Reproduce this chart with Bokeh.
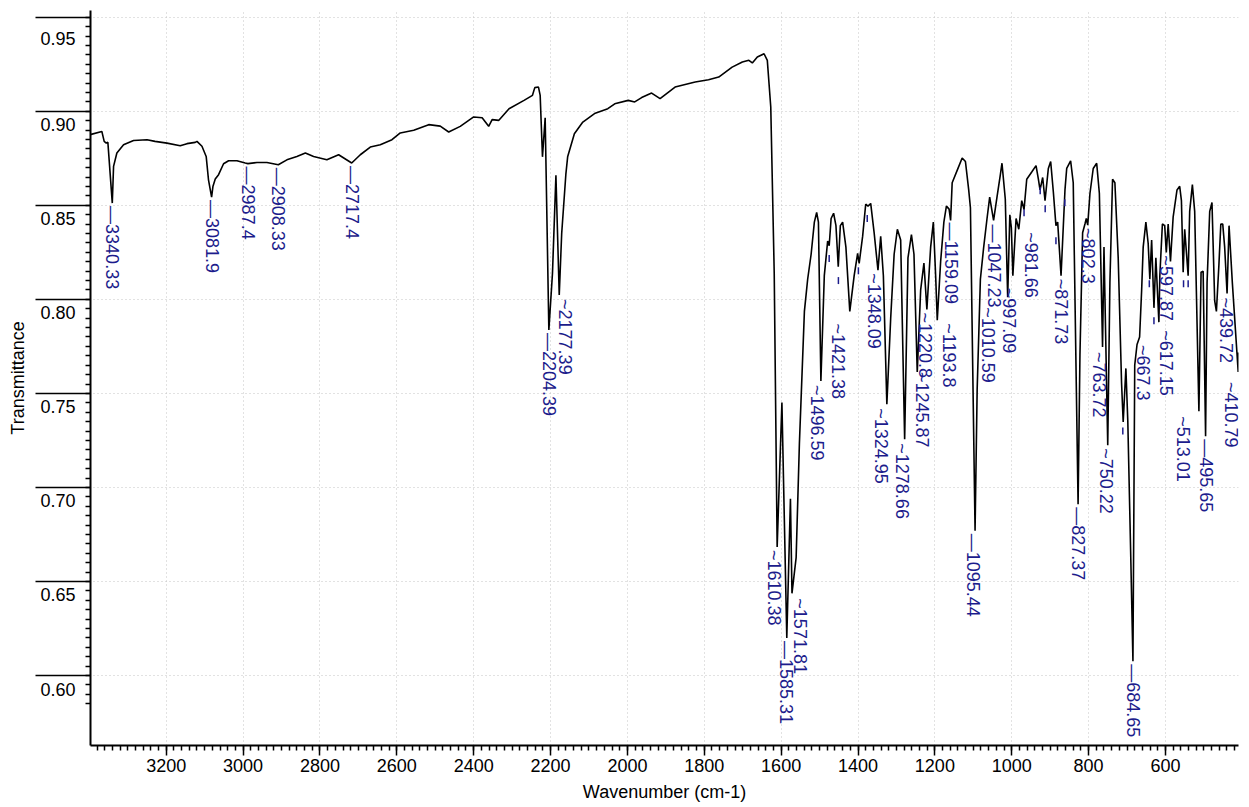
import math
from bokeh.plotting import figure
from bokeh.models import (ColumnDataSource, Range1d, SingleIntervalTicker, FixedTicker,
                          PrintfTickFormatter)
from bokeh.embed import file_html
from bokeh.resources import INLINE
from bokeh.core.properties import value

# ---------------- data ----------------
wavenumber = [
    3397.8, 3367.5, 3361.4, 3356, 3351.8, 3340.33, 3337, 3328.4, 3311, 3285, 3250, 3229,
    3198, 3163.6, 3146, 3124.5, 3120, 3107, 3096, 3090, 3081.9, 3078.5, 3072.4, 3063.8,
    3050.8, 3037.7, 3016, 2994.4, 2987.4, 2964, 2938, 2908.33, 2886, 2860, 2838, 2816.5,
    2782, 2751.4, 2717.4, 2695, 2669, 2643, 2612.6, 2591, 2556, 2517, 2487, 2465, 2435,
    2400, 2378, 2361, 2352, 2334.5, 2308, 2269, 2247, 2241, 2231.4, 2227, 2221, 2214,
    2204.39, 2195, 2186, 2177.39, 2171, 2160, 2155.5, 2138, 2116, 2085.6, 2051, 2033,
    1998, 1981, 1963, 1937, 1915, 1876, 1823.6, 1789, 1762.4, 1727.5, 1701, 1684, 1675,
    1662, 1644.5, 1636, 1627, 1618, 1610.38, 1598, 1585.31, 1575.8, 1571.81, 1561,
    1552.5, 1539.5, 1531, 1522, 1513.6, 1507.6, 1503, 1496.59, 1487.7, 1479, 1475, 1470,
    1463.5, 1457.4, 1451.4, 1446, 1440, 1431.5, 1421.38, 1410, 1401, 1397, 1388, 1380,
    1374, 1367, 1358, 1348.09, 1341, 1334, 1324.95, 1315, 1306, 1297.6, 1289, 1278.66,
    1270, 1261, 1254.4, 1245.87, 1237, 1228.5, 1220.8, 1211, 1204, 1198, 1193.8, 1185,
    1176.6, 1170, 1163, 1159.09, 1155, 1142, 1129, 1120.5, 1112, 1107.5, 1095.44, 1090,
    1081.6, 1073, 1064.3, 1057.4, 1047.23, 1038.4, 1030, 1025.4, 1016.8, 1010.59, 1005,
    1001, 997.09, 988.7, 981.66, 974, 968, 961, 948, 936.8, 930.7, 926.4, 919.5, 913.4,
    904.8, 898.7, 891.8, 885, 880.5, 871.73, 861.5, 857, 846.8, 840, 827.37, 822.5,
    815.6, 809.5, 806, 802.3, 796.5, 788, 779, 772, 763.72, 760, 750.22, 744.6, 737.7,
    731.6, 723, 714.3, 710, 703, 698, 690, 684.65, 680, 674, 667.3, 662, 658, 651, 645,
    640.7, 636, 630, 625, 617.15, 614.7, 608, 602, 597.87, 593, 587, 580, 570, 563,
    558.5, 554, 550, 541, 537, 530, 524, 513.01, 507.4, 502, 495.65, 491.8, 484.9, 479,
    472, 467.5, 461, 456, 451, 446, 439.72, 434.6, 426, 410.79, 410,
]
transmittance = [
    0.8876, 0.8893, 0.8840, 0.8831, 0.8835, 0.8512, 0.8707, 0.8778, 0.8822, 0.8845, 0.8849, 0.8840,
    0.8831, 0.8817, 0.8828, 0.8835, 0.8840, 0.8814, 0.8760, 0.8636, 0.8544, 0.8600, 0.8640, 0.8663,
    0.8721, 0.8737, 0.8737, 0.8725, 0.8722, 0.8728, 0.8728, 0.8716, 0.8742, 0.8760, 0.8778, 0.8760,
    0.8742, 0.8769, 0.8725, 0.8769, 0.8810, 0.8822, 0.8849, 0.8885, 0.8899, 0.8929, 0.8921, 0.8890, 0.8920,
    0.8970, 0.8966, 0.8920, 0.8956, 0.8952, 0.9014, 0.9058, 0.9085, 0.9126, 0.9129, 0.9085, 0.8758, 0.8966,
    0.7837, 0.8138, 0.8660, 0.8023, 0.8350, 0.8669, 0.8758, 0.8881, 0.8943, 0.8988, 0.9014, 0.9040,
    0.9058, 0.9050, 0.9073, 0.9097, 0.9067, 0.9129, 0.9156, 0.9168, 0.9182, 0.9235, 0.9262, 0.9271, 0.9257,
    0.9289, 0.9306, 0.9271, 0.9023, 0.8138, 0.6684, 0.7452, 0.6200, 0.6940, 0.6437, 0.6627,
    0.7234, 0.7936, 0.8107, 0.8240, 0.8411, 0.8462, 0.8411, 0.7566, 0.8126, 0.8310, 0.8285, 0.8430,
    0.8458, 0.8392, 0.8174, 0.8392, 0.8411, 0.8278, 0.7936, 0.8126, 0.8244, 0.8192, 0.8335, 0.8506,
    0.8496, 0.8510, 0.8354, 0.8155, 0.8335, 0.8126, 0.7443, 0.7898, 0.8240, 0.8373, 0.8316, 0.7256,
    0.8221, 0.8344, 0.8240, 0.7614, 0.8050, 0.8193, 0.7946, 0.8278, 0.8411, 0.8126, 0.7889, 0.8202,
    0.8411, 0.8496, 0.8480, 0.8420, 0.8620, 0.8686, 0.8752, 0.8733, 0.8582, 0.8487, 0.6770, 0.7519,
    0.8107, 0.8278, 0.8430, 0.8544, 0.8420, 0.8544, 0.8658, 0.8724, 0.8534, 0.8012, 0.8450,
    0.8380, 0.8126, 0.8430, 0.8373, 0.8525, 0.8477, 0.8639, 0.8677, 0.8711, 0.8639, 0.8582, 0.8648, 0.8525,
    0.8696, 0.8733, 0.8572, 0.8392, 0.8411, 0.8126, 0.8582, 0.8696, 0.8737, 0.8620, 0.6911, 0.7709,
    0.8354, 0.8401, 0.8430, 0.8395, 0.8563, 0.8696, 0.8724, 0.8563, 0.7747, 0.8278, 0.7225, 0.8088, 0.8639,
    0.8620, 0.8221, 0.7557, 0.7348, 0.7633, 0.7350, 0.6600, 0.6076, 0.7650, 0.7760, 0.7800, 0.8050, 0.8278, 0.8411, 0.8297,
    0.8107, 0.8316, 0.7955, 0.8221, 0.7879, 0.8126, 0.8401, 0.8392, 0.8250, 0.8401, 0.8202, 0.8439, 0.8582, 0.8601,
    0.8525, 0.8145, 0.8373, 0.8126, 0.8468, 0.8610, 0.8468, 0.7405, 0.8145, 0.8150, 0.7272, 0.8088, 0.8468, 0.8515,
    0.7993, 0.7936, 0.8183, 0.8401, 0.8400, 0.8278, 0.8031, 0.8392, 0.8088, 0.7614, 0.7718,
]

# labelled peaks
peak_wn = [3340.33, 3081.9, 2987.4, 2908.33, 2717.4, 2204.39, 2177.39, 1610.38, 1585.31,
           1571.81, 1496.59, 1421.38, 1348.09, 1324.95, 1278.66, 1245.87, 1220.8, 1193.8,
           1159.09, 1095.44, 1047.23, 1010.59, 997.09, 981.66, 871.73, 827.37, 802.3,
           763.72, 750.22, 684.65, 667.3, 617.15, 597.87, 513.01, 495.65, 439.72, 410.79]
peak_T = [0.8512, 0.8544, 0.8722, 0.8716, 0.8725, 0.7837, 0.8023, 0.6684, 0.6200,
          0.6437, 0.7566, 0.7936, 0.8155, 0.7443, 0.7256, 0.7614, 0.7946, 0.7889,
          0.8420, 0.6770, 0.8420, 0.8012, 0.8126, 0.8373, 0.8126, 0.6911, 0.8395,
          0.7747, 0.7225, 0.6076, 0.7800, 0.7879, 0.8250, 0.7405, 0.7272, 0.8031, 0.7614]
peak_leader = ["—", "—", "—", "—", "—", "—", "~", "~", "—",
               "~", "~", "~", "~", "~", "~", "~", "~", "~",
               "—", "—", "—", "~", "~", "~", "~", "—", "~",
               "~", "~", "—", "~", "~", "~", "~", "—", "~", "~"]

# small unlabelled peak marks
mark_wn = [1475, 1451, 1399, 1376, 968, 926, 913, 885, 862, 711, 642, 630, 553, 541]
mark_T = [0.8217, 0.8100, 0.8152, 0.8430, 0.8460, 0.8578, 0.8482, 0.8312, 0.8514,
          0.7300, 0.8083, 0.7887, 0.8083, 0.8083]

# axis ticks
x_tick_interval = 200
y_major_ticks = [0.60, 0.65, 0.70, 0.75, 0.80, 0.85, 0.90, 0.95]
y_minor_ticks = [round(0.585 + 0.005 * i, 3) for i in range(74)]

# ---------------- styles ----------------
FONT = "Liberation Sans"
BLUE = "#1c1c8c"
label_dx = [0, 0, 0, 0, 0, 0, 6, -3, -1,
            8, -4, -12, -4, -6, -3, 5, -2, 12,
            0, -2, 0, -20, -4, 12, 0, 0, 0,
            -4, -2, 0, 3, 7, 0, -16, 0, -1, -7]
label_dy = [3, 3, 3, 3, 3, 3, 4, 3, 3,
            5, 4, 12, 3, 4, 4, 0, 3, 3,
            2, 3, 4, 10, 12, 3, 3, 3, 3,
            5, 3, 3, 8, 8, 3, 5, 3, 4, 10]

p = figure(width=1246, height=806, output_backend="svg", toolbar_location=None,
           x_range=Range1d(3397, 410), y_range=Range1d(0.5628, 0.9536),
           min_border_left=90, min_border_right=8, min_border_top=10, min_border_bottom=61)
p.outline_line_color = None
p.background_fill_color = "white"
p.border_fill_color = "white"

p.line(wavenumber, transmittance, line_color="black", line_width=1.6)

src = ColumnDataSource(dict(
    x=peak_wn, y=peak_T,
    text=[lead + str(w) for lead, w in zip(peak_leader, peak_wn)],
    dx=label_dx, dy=label_dy,
))
p.text(x="x", y="y", text="text", source=src, angle=-math.pi / 2,
       x_offset="dx", y_offset="dy", text_align="left", text_baseline="middle",
       text_color=BLUE, text_font=value(FONT), text_font_size="18px")

p.scatter(mark_wn, mark_T, marker="dash", angle=math.pi / 2, size=7,
          line_color=BLUE, line_width=1.5)

# x axis
xa = p.xaxis[0]
xa.ticker = SingleIntervalTicker(interval=x_tick_interval, num_minor_ticks=10)
xa.axis_label = "Wavenumber (cm-1)"
# y axis
ya = p.yaxis[0]
ya.ticker = FixedTicker(ticks=y_major_ticks, minor_ticks=y_minor_ticks)
ya.axis_label = "Transmittance"
ya.formatter = PrintfTickFormatter(format="\n%.2f")

for ax in (xa, ya):
    ax.axis_line_color = "black"
    ax.axis_line_width = 2
    ax.major_tick_line_color = "black"
    ax.major_tick_line_width = 1.5
    ax.minor_tick_line_color = "black"
    ax.minor_tick_line_width = 1.5
    ax.major_tick_in = 0
    ax.minor_tick_in = 0
    ax.major_label_text_font = FONT
    ax.major_label_text_font_size = "18px"
    ax.major_label_text_color = "black"
    ax.axis_label_text_font = FONT
    ax.axis_label_text_font_size = "18px"
    ax.axis_label_text_font_style = "normal"
    ax.axis_label_text_color = "black"

xa.major_tick_out = 10
xa.minor_tick_out = 5
xa.major_label_standoff = 3
xa.axis_label_standoff = 7

ya.major_tick_out = 55
ya.minor_tick_out = 5
ya.major_label_standoff = -40
ya.major_label_text_line_height = 1.4
ya.axis_label_standoff = 9

for g in (p.xgrid[0], p.ygrid[0]):
    g.grid_line_color = "#c4c4c4"
    g.grid_line_dash = "1 3"
    g.grid_line_width = 1

open("out.html", "w").write(file_html(p, INLINE))
